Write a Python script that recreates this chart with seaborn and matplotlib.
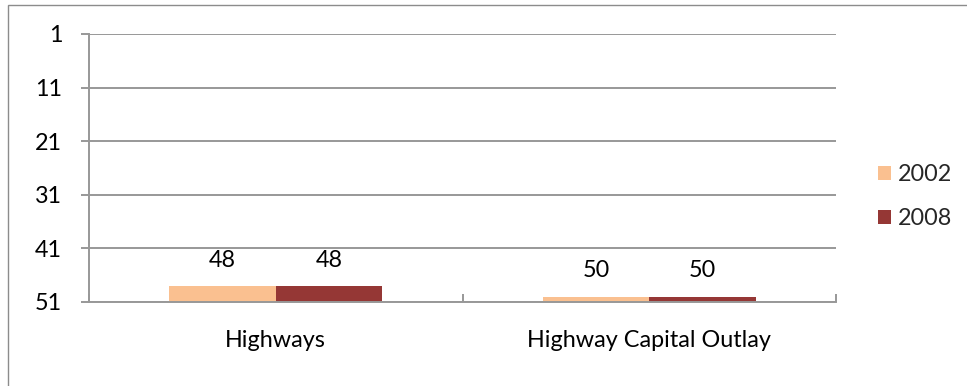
import matplotlib
matplotlib.use("Agg")
import matplotlib.pyplot as plt
from matplotlib.patches import Rectangle
import seaborn as sns
import pandas as pd

# state ranking (1 = best, 51 = worst)
categories = ["Highways", "Highway Capital Outlay"]
years = ["2002", "2008"]
rank_2002 = [48, 50]
rank_2008 = [48, 50]
y_ticks = [1, 11, 21, 31, 41, 51]
baseline = 51

colors = {"2002": "#FAC090", "2008": "#953735"}
grid_gray = "#989898"
fs = 16.8

df = pd.DataFrame({
    "category": categories * 2,
    "year": [years[0]] * len(categories) + [years[1]] * len(categories),
    "rank": rank_2002 + rank_2008,
})

sns.set_theme(style="white")
plt.rcParams["font.family"] = ["Lato", "DejaVu Sans"]

fig = plt.figure(figsize=(9.67, 3.86), dpi=100)
ax = fig.add_axes([89 / 967, 1 - 302 / 386, (836 - 89) / 967, (302 - 34) / 386])

sns.barplot(data=df, x="category", y="rank", hue="year", palette=colors,
            width=0.57, saturation=1, errorbar=None, legend=False, ax=ax)

# bars grow from the bottom of the inverted axis (rank 51) up to the value
for cont in ax.containers:
    for bar, val in zip(cont, cont.datavalues):
        bar.set_y(baseline)
        bar.set_height(val - baseline)
        bar.set_edgecolor("none")
        ax.annotate(f"{val:g}", (bar.get_x() + bar.get_width() / 2, val),
                    xytext=(0, 18.5), textcoords="offset points",
                    ha="center", va="center", fontsize=fs, color="black")

ax.set_ylim(baseline, 1)
ax.set_yticks(y_ticks)
ax.set_xlim(-0.5, len(categories) - 0.5)
ax.set_xticks([i - 0.5 for i in range(len(categories) + 1)])
ax.set_xticklabels([])
ax.set_xticks(range(len(categories)), minor=True)
ax.set_xticklabels(categories, minor=True)
ax.set_xlabel("")
ax.set_ylabel("")

ax.yaxis.grid(True, color=grid_gray, lw=1.4)
ax.set_axisbelow(True)
for side in ["top", "right"]:
    ax.spines[side].set_visible(False)
for side in ["left", "bottom"]:
    ax.spines[side].set_color(grid_gray)
    ax.spines[side].set_linewidth(1.4)

ax.tick_params(axis="y", which="major", left=True, direction="out", length=5.8,
               width=1.4, color=grid_gray, pad=13.5, labelsize=fs, labelcolor="black")
ax.tick_params(axis="x", which="major", bottom=True, direction="in", length=5.8,
               width=1.4, color=grid_gray)
ax.tick_params(axis="x", which="minor", bottom=True, length=0, pad=20.5,
               labelsize=fs, labelcolor="black")

handles = [Rectangle((0, 0), 1, 1, facecolor=colors[y], edgecolor="none") for y in years]
fig.legend(handles, years, loc="center left", bbox_to_anchor=(878 / 967, 1 - 196.5 / 386),
           frameon=False, fontsize=fs, handlelength=0.55, handleheight=0.55,
           handletextpad=0.3, labelspacing=1.0, borderpad=0, borderaxespad=0)

# outer chart frame (only left and top edges are visible in the crop)
fig.add_artist(Rectangle((8 / 967, -0.1), 1.2, 1 - 5 / 386 + 0.1, transform=fig.transFigure,
                         fill=False, edgecolor="#8c8c8c", lw=1))

fig.savefig("out.png", dpi=100)
